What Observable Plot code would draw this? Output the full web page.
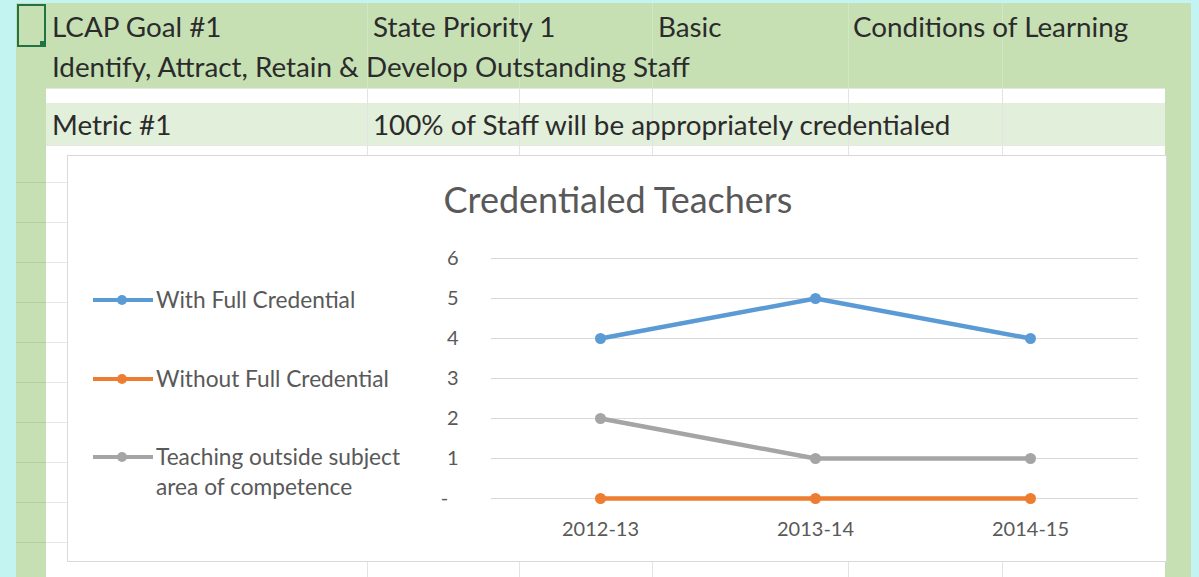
<!DOCTYPE html>
<html>
<head>
<meta charset="utf-8">
<script src="https://cdn.jsdelivr.net/npm/d3@7"></script>
<script src="https://cdn.jsdelivr.net/npm/@observablehq/plot@0.6"></script>
<style>
  html, body { margin: 0; padding: 0; }
  body { width: 1199px; height: 577px; overflow: hidden; background: #c4f4f2; font-family: Lato, "Open Sans", sans-serif; }
  #page { position: relative; width: 1199px; height: 577px; }
  .abs { position: absolute; }
  .hdr { position: absolute; font-size: 27.8px; color: #2b2b2b; white-space: nowrap; line-height: 1; }
  .vline { position: absolute; width: 1px; }
  .hline { position: absolute; height: 1px; }
  #chartbox { position: absolute; left: 67px; top: 155px; width: 1098px; height: 405px; background: #fff; border: 1px solid #d9d9d9; }
  #title { position: absolute; left: 0; width: 1100px; top: 25px; text-align: center; font-size: 36px; color: #595959; line-height: 1; }
  .leg { position: absolute; left: 25px; display: flex; align-items: flex-start; }
  .leg svg { flex: none; }
  .leg span { font-size: 22.7px; color: #595959; line-height: 30px; width: 268px; margin-left: 3px; }
  #plot { position: absolute; left: 343px; top: 85px; }
</style>
</head>
<body>
<div id="page">
  <div class="abs" style="left:16px;top:3px;width:1175px;height:574px;background:#c6e0b4;"></div>
  <div class="abs" style="left:46px;top:88px;width:1119px;height:489px;background:#ffffff;"></div>
  <div class="abs" style="left:46px;top:103px;width:1119px;height:42px;background:#e2efda;"></div>
  <div id="grid"></div>
  <div class="abs" style="left:17px;top:4px;width:25px;height:39px;border:2px solid #217346;"></div>
  <div class="abs" style="left:40px;top:41px;width:6px;height:6px;background:#217346;"></div>
  <div class="hdr" style="left:52px;top:13px;">LCAP Goal #1</div>
  <div class="hdr" style="left:373px;top:13px;">State Priority 1</div>
  <div class="hdr" style="left:658px;top:13px;">Basic</div>
  <div class="hdr" style="left:853px;top:13px;">Conditions of Learning</div>
  <div class="hdr" style="left:52px;top:53px;">Identify, Attract, Retain &amp; Develop Outstanding Staff</div>
  <div class="hdr" style="left:52px;top:111px;">Metric #1</div>
  <div class="hdr" style="left:373px;top:111px;">100% of Staff will be appropriately credentialed</div>
  <div id="chartbox">
    <div id="title">Credentialed Teachers</div>
    <div id="legend"></div>
    <div id="plot"></div>
  </div>
</div>
<script>
// ---- data ----
const years = ["2012-13", "2013-14", "2014-15"];
const seriesNames = ["With Full Credential", "Without Full Credential", "Teaching outside subject area of competence"];
const withFull = [4, 5, 4];
const withoutFull = [0, 0, 0];
const outsideSubject = [2, 1, 1];
const seriesColors = ["#5b9bd5", "#ed7d31", "#a5a5a5"];
const yTicks = [0, 1, 2, 3, 4, 5, 6];

// ---- spreadsheet grid ----
const grid = document.getElementById("grid");
[367, 519, 652, 848, 1002].forEach(x => {
  const a = document.createElement("div");
  a.className = "vline"; a.style.left = x + "px"; a.style.top = "3px"; a.style.height = "85px"; a.style.background = "#d3e6c6";
  grid.appendChild(a);
  const b = document.createElement("div");
  b.className = "vline"; b.style.left = x + "px"; b.style.top = "88px"; b.style.height = "489px"; b.style.background = "#e3e3e3";
  grid.appendChild(b);
});
for (let y = 182; y < 577; y += 40) {
  const a = document.createElement("div");
  a.className = "hline"; a.style.left = "16px"; a.style.top = y + "px"; a.style.width = "30px"; a.style.background = "#b5cfa5";
  grid.appendChild(a);
  const b = document.createElement("div");
  b.className = "hline"; b.style.left = "46px"; b.style.top = y + "px"; b.style.width = "1119px"; b.style.background = "#e6e6e6";
  grid.appendChild(b);
}
[88, 145].forEach(y => {
  const b = document.createElement("div");
  b.className = "hline"; b.style.left = "46px"; b.style.top = y + "px"; b.style.width = "1119px"; b.style.background = "#e6e6e6";
  grid.appendChild(b);
});

// ---- table ----
const valuesBySeries = [withFull, withoutFull, outsideSubject];
const rows = [];
seriesNames.forEach((s, i) => years.forEach((yr, j) => rows.push({series: s, year: yr, value: valuesBySeries[i][j]})));

// ---- legend ----
const legend = document.getElementById("legend");
const legendTops = [129, 208, 286];
seriesNames.forEach((s, i) => {
  const item = document.createElement("div");
  item.className = "leg";
  item.style.top = legendTops[i] + "px";
  item.innerHTML = `<svg width="60" height="30"><line x1="0" x2="60" y1="15" y2="15" stroke="${seriesColors[i]}" stroke-width="4"/><circle cx="29" cy="15" r="5" fill="${seriesColors[i]}"/></svg><span>${s}</span>`;
  legend.appendChild(item);
});

// ---- chart ----
const chart = Plot.plot({
  width: 750,
  height: 300,
  marginLeft: 80,
  marginRight: 23,
  marginTop: 17,
  marginBottom: 43,
  style: {fontFamily: "Lato, 'Open Sans', sans-serif", fontSize: "20px", color: "#595959", background: "transparent"},
  x: {type: "point", domain: years, padding: 0.5, label: null},
  y: {domain: [0, 6], label: null},
  color: {domain: seriesNames, range: seriesColors},
  marks: [
    Plot.gridY(yTicks, {stroke: "#d9d9d9", strokeOpacity: 1, strokeWidth: 1}),
    Plot.axisY(yTicks, {tickSize: 0, tickPadding: 33, tickFormat: d => d === 0 ? "-  " : String(d), fill: "#595959", fontSize: 20}),
    Plot.axisX({tickSize: 0, tickPadding: 23, fill: "#595959", fontSize: 20}),
    Plot.line(rows, {x: "year", y: "value", z: "series", stroke: "series", strokeWidth: 4.5}),
    Plot.dot(rows, {x: "year", y: "value", fill: "series", r: 5.5})
  ]
});
document.getElementById("plot").appendChild(chart);
</script>
</body>
</html>
